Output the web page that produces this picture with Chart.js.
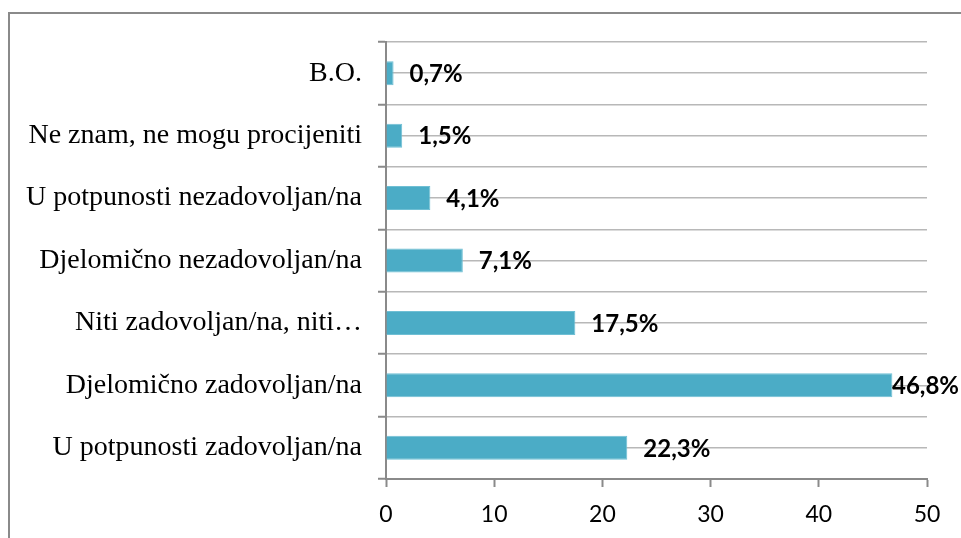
<!DOCTYPE html>
<html>
<head>
<meta charset="utf-8">
<script src="https://cdn.jsdelivr.net/npm/chart.js@4.4.1/dist/chart.umd.min.js"></script>
<style>
    html, body { margin: 0; padding: 0; background: #fff; overflow: hidden; }
    .frame { position: absolute; left: 8px; top: 12px; width: 1000px; height: 600px; border-left: 2px solid #8a8a8a; border-top: 2px solid #8a8a8a; }
    .wrap { position: absolute; left: 0; top: 0; width: 961px; height: 538px; }
</style>
</head>
<body>
<div class="frame"></div>
<div class="wrap"><canvas id="satisfactionChart"></canvas></div>
<script>
const categories = [
    'B.O.',
    'Ne znam, ne mogu procijeniti',
    'U potpunosti nezadovoljan/na',
    'Djelomično nezadovoljan/na',
    'Niti zadovoljan/na, niti…',
    'Djelomično zadovoljan/na',
    'U potpunosti zadovoljan/na',
];
const percentValues = [0.7, 1.5, 4.1, 7.1, 17.5, 46.8, 22.3];
const valueLabels = ['0,7%', '1,5%', '4,1%', '7,1%', '17,5%', '46,8%', '22,3%'];
const xTicks = [0, 10, 20, 30, 40, 50];

// labels to the right of each bar, pushed back inside the canvas when too long
const barLabels = {
    id: 'barLabels',
    afterDatasetsDraw(chart) {
        const ctx = chart.ctx;
        const meta = chart.getDatasetMeta(0);
        ctx.save();
        ctx.font = 'bold 24px Lato';
        ctx.fillStyle = '#000';
        ctx.textBaseline = 'middle';
        ctx.textAlign = 'left';
        meta.data.forEach((bar, i) => {
            const text = valueLabels[i];
            const w = ctx.measureText(text).width;
            let x = bar.x + 16;
            if (x + w > chart.width - 2) x = chart.width - 2 - w;
            ctx.fillText(text, x, bar.y + 1);
        });
        ctx.restore();
    },
};

document.addEventListener('DOMContentLoaded', () => {
    const canvas = document.getElementById('satisfactionChart');
    canvas.width = 961;
    canvas.height = 538;

    new Chart(canvas, {
        type: 'bar',
        data: {
            labels: categories,
            datasets: [{
                data: percentValues,
                backgroundColor: '#4bacc6',
                borderColor: '#6fbfd4',
                borderWidth: 1,
                barPercentage: 0.385,
                categoryPercentage: 1,
            }],
        },
        options: {
            indexAxis: 'y',
            responsive: false,
            animation: false,
            layout: {
                padding: { left: 0, top: 42, right: 34, bottom: 0 },
            },
            plugins: {
                legend: { display: false },
                tooltip: { enabled: false },
            },
            scales: {
                x: {
                    min: xTicks[0],
                    max: xTicks[xTicks.length - 1],
                    afterBuildTicks: (s) => { s.ticks = xTicks.map(v => ({ value: v })); },
                    afterFit: (s) => { s.height = 59; },
                    grid: {
                        drawOnChartArea: false,
                        drawTicks: true,
                        tickLength: 8,
                        tickColor: '#8a8a8a',
                        tickWidth: 2,
                    },
                    border: { display: true, color: '#8a8a8a', width: 2 },
                    ticks: {
                        color: '#000',
                        padding: 14,
                        font: { family: 'Lato', size: 23 },
                    },
                },
                y: {
                    type: 'category',
                    offset: true,
                    afterFit: (s) => { s.width = 386; },
                    grid: {
                        offset: true,
                        color: '#b8b8b8',
                        lineWidth: 1.5,
                        drawTicks: true,
                        tickLength: 8,
                        tickColor: '#8a8a8a',
                        tickWidth: 2,
                    },
                    border: { display: true, color: '#8a8a8a', width: 2 },
                    ticks: {
                        color: '#000',
                        padding: 16,
                        autoSkip: false,
                        font: { family: 'Liberation Serif', size: 28 },
                    },
                },
                yMid: {
                    type: 'category',
                    labels: categories,
                    offset: true,
                    position: 'left',
                    afterFit: (s) => { s.width = 0; },
                    grid: {
                        offset: false,
                        color: '#b8b8b8',
                        lineWidth: 1.5,
                        drawTicks: false,
                    },
                    border: { display: false },
                    ticks: { display: false },
                },
            },
        },
        plugins: [barLabels],
    });
});
</script>
</body>
</html>
